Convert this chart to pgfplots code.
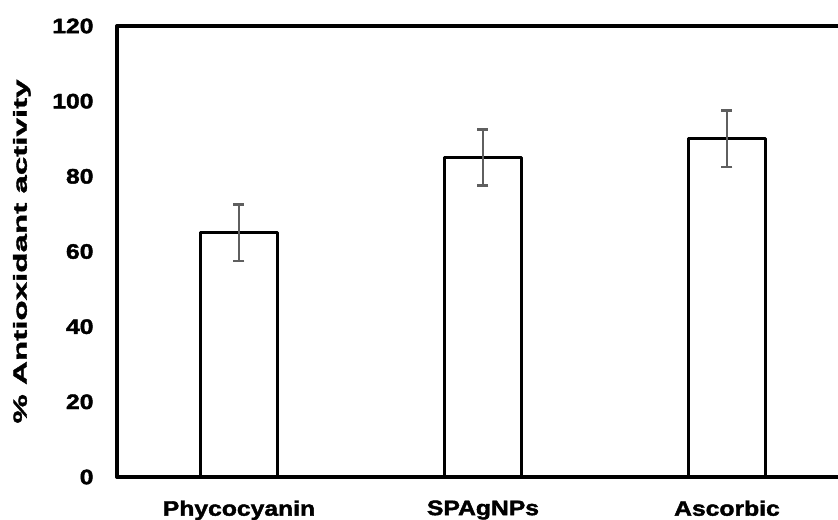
\documentclass[border=0pt]{standalone}
\usepackage{pgfplots}
\pgfplotsset{compat=1.18}
\usepackage{fontspec}
\setmainfont{Liberation Sans}
\newfontfamily\labfont[FakeStretch=1.18,FakeBold=2]{Liberation Sans Bold}
\newfontfamily\ylabfont[FakeStretch=1.75,FakeBold=2]{Liberation Sans Bold}
\definecolor{errgray}{HTML}{5F5F5F}
\begin{document}
\begin{tikzpicture}
\begin{axis}[
  at={(0,0)}, anchor=south west,
  scale only axis, width=721bp, height=451bp,
  xmin=-0.5, xmax=2.455, ymin=0, ymax=120,
  ytick={0,20,...,120},
  xtick={0,1,2}, xticklabels={Phycocyanin,SPAgNPs,Ascorbic},
  axis x line*=bottom, axis y line*=left,
  axis line style={line width=3.5bp, line cap=round},
  major tick length=0pt,
  tick style={draw=none},
  /pgf/number format/assume math mode=true,
  ticklabel style={font=\fontsize{21}{25}\selectfont\labfont},
  yticklabel style={anchor=east, xshift=-20bp},
  xticklabel style={anchor=north, yshift=-20bp},
  ylabel={\% Antioxidant activity},
  every axis y label/.style={at={(axis description cs:-0.132,0.5)}, rotate=90, anchor=center,
    font=\fontsize{19}{23}\selectfont\ylabfont},
  clip=false,
]
\addplot[ybar, bar width=0.316, fill=white, draw=black, line width=3.5bp, line join=round,
  error bars/.cd, y dir=both, y explicit,
  error bar style={line width=2.5bp, color=errgray},
  error mark options={rotate=90, mark size=5.5bp, line width=2.5bp, color=errgray}]
  coordinates {(0,65) +- (0,7.5) (1,85) +- (0,7.5) (2,90) +- (0,7.5)};
\draw[line width=3.5bp, line cap=round] (rel axis cs:0,1) -- (rel axis cs:1,1);
\end{axis}
\pgfresetboundingbox
\useasboundingbox (-117bp,-43bp) rectangle (721bp,477bp);
\end{tikzpicture}
\end{document}
